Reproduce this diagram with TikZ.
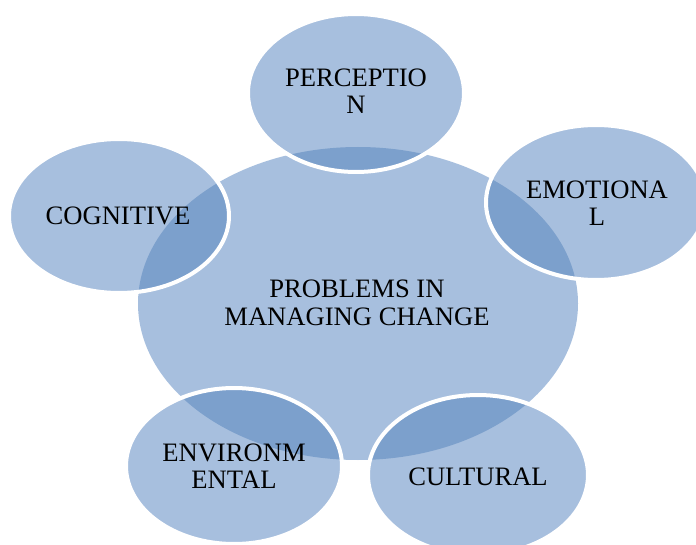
\documentclass[tikz,border=0pt]{standalone}
\usepackage{fontspec}
\setmainfont{Liberation Serif}
\definecolor{lightblue}{RGB}{167,191,222}
\definecolor{darkblue}{RGB}{124,160,204}
\begin{document}
\begin{tikzpicture}[x=1pt,y=-1pt,
  label text/.style={align=center,inner sep=0pt,font=\fontsize{26.6}{27.5}\selectfont,text=black},
  rim/.style={draw=white,line width=4pt}]
\clip (0,0) rectangle (696,545);
\fill[white] (0,0) rectangle (696,545);
% central
\fill[lightblue] (358,303.5) ellipse [x radius=220, y radius=156.5];
% outer ellipses
\foreach \cx/\cy/\rx/\ry in {356/93/108/79, 596/202.5/110/77.5, 119/216/110/77, 234/466/108/78, 478/475/110/80}{
  \fill[lightblue] (\cx,\cy) ellipse [x radius=\rx, y radius=\ry];
  \begin{scope}
    \clip (358,303.5) ellipse [x radius=220, y radius=156.5];
    \fill[darkblue] (\cx,\cy) ellipse [x radius=\rx, y radius=\ry];
  \end{scope}
  \draw[rim] (\cx,\cy) ellipse [x radius=\rx, y radius=\ry];
}
\node[label text] (center) at (357,303) {PROBLEMS IN\\MANAGING CHANGE};
\node[label text] (perc) at (356,91) {PERCEPTIO\\N};
\node[label text] (emo) at (597,203) {EMOTIONA\\L};
\node[label text] (cog) at (118,216) {COGNITIVE};
\node[label text] (env) at (234,466) {ENVIRONM\\ENTAL};
\node[label text] (cult) at (478,477) {CULTURAL};
\end{tikzpicture}
\end{document}
